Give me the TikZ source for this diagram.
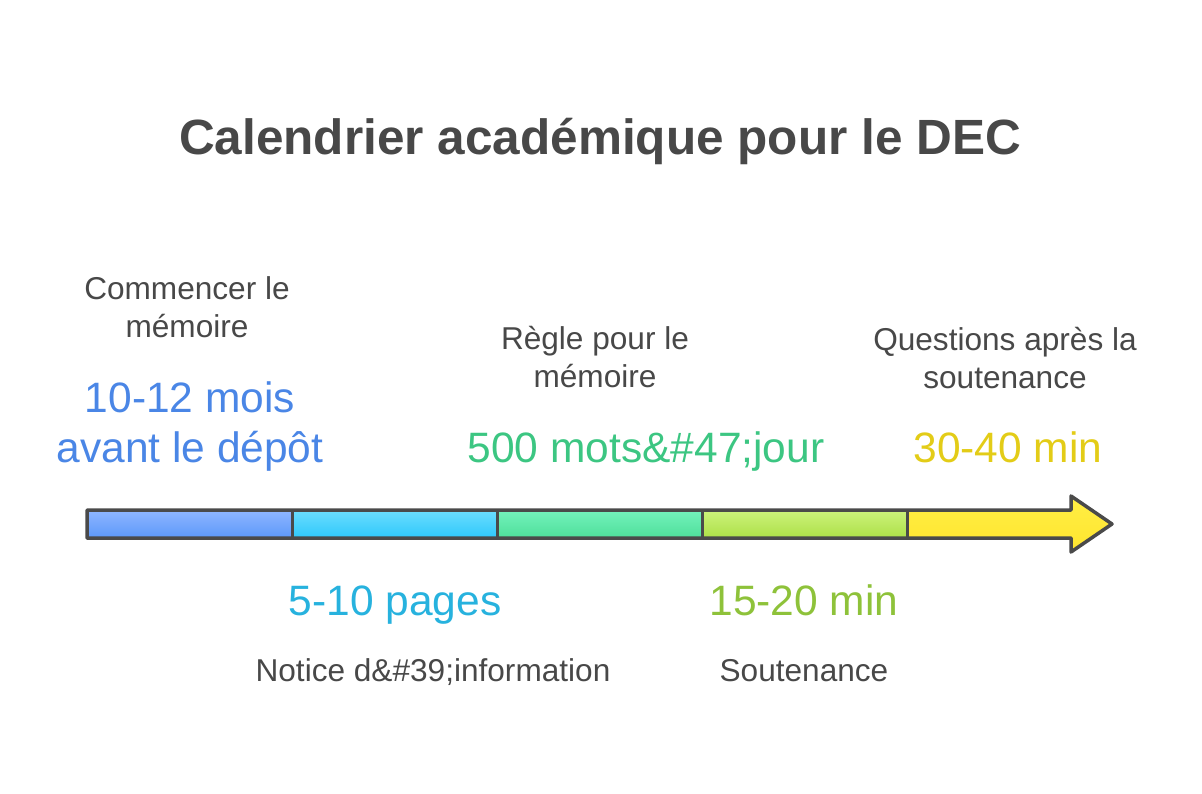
\documentclass[tikz,border=0pt]{standalone}
\usepackage{fontspec}
\setmainfont{Liberation Sans}
\definecolor{txtgray}{HTML}{484848}
\definecolor{edge}{HTML}{4A4A4A}
\definecolor{cblue}{HTML}{4A86E6}
\definecolor{ccyan}{HTML}{27B2DE}
\definecolor{cgreen}{HTML}{3CC682}
\definecolor{clime}{HTML}{8EC23A}
\definecolor{cyellow}{HTML}{E3CC17}
\definecolor{s1t}{HTML}{8FB6FF}\definecolor{s1b}{HTML}{5C98FA}
\definecolor{s2t}{HTML}{6CDDFD}\definecolor{s2b}{HTML}{2EC8FC}
\definecolor{s3t}{HTML}{74F2BC}\definecolor{s3b}{HTML}{4EDF9A}
\definecolor{s4t}{HTML}{CCF27C}\definecolor{s4b}{HTML}{ADE047}
\definecolor{s5t}{HTML}{FFEE45}\definecolor{s5b}{HTML}{FFE52E}
\tikzset{
  lbl/.style={text=txtgray, align=center, inner sep=0pt, anchor=base, font=\fontsize{31.6}{37.5}\selectfont},
  val/.style={align=center, inner sep=0pt, anchor=base, font=\fontsize{42.5}{50}\selectfont},
}
\begin{document}
\begin{tikzpicture}[x=1pt,y=-1pt]
\useasboundingbox (0,0) rectangle (1202,793);
% title
\node[text=txtgray, inner sep=0pt, anchor=base, font=\fontsize{49.5}{56}\bfseries\selectfont] (title) at (600,154) {Calendrier académique pour le DEC};
% segments
\shade[top color=s1t, bottom color=s1b] (87,510) rectangle (292,538);
\shade[top color=s2t, bottom color=s2b] (292,510) rectangle (497,538);
\shade[top color=s3t, bottom color=s3b] (497,510) rectangle (702,538);
\shade[top color=s4t, bottom color=s4b] (702,510) rectangle (907,538);
\shade[top color=s5t, bottom color=s5b] (907,510) -- (1071,510) -- (1071,496) -- (1112,524) -- (1071,552) -- (1071,538) -- (907,538) -- cycle;
% outline
\draw[edge, line width=3.5pt, line join=round] (87,510) -- (1071,510) -- (1071,496) -- (1112,524) -- (1071,552) -- (1071,538) -- (87,538) -- cycle;
\foreach \x in {292,497,702,907} \draw[edge, line width=3pt] (\x,510) -- (\x,538);
% texts (base anchor = baseline of last line)
\node[lbl] (l1) at (187,337) {Commencer le\\mémoire};
\node[val, text=cblue] (v1) at (190,462) {10-12 mois\\avant le dépôt};
\node[val, text=ccyan] (v2) at (395,615) {5-10 pages};
\node[lbl] (l2) at (433,681) {Notice d\&\#39;information};
\node[lbl] (l3) at (595,387) {Règle pour le\\mémoire};
\node[val, text=cgreen] (v3) at (646,462) {500 mots\&\#47;jour};
\node[val, text=clime] (v4) at (804,615) {15-20 min};
\node[lbl] (l4) at (804,681) {Soutenance};
\node[lbl] (l5) at (1005,388) {Questions après la\\soutenance};
\node[val, text=cyellow] (v5) at (1008,462) {30-40 min};
\end{tikzpicture}
\end{document}
